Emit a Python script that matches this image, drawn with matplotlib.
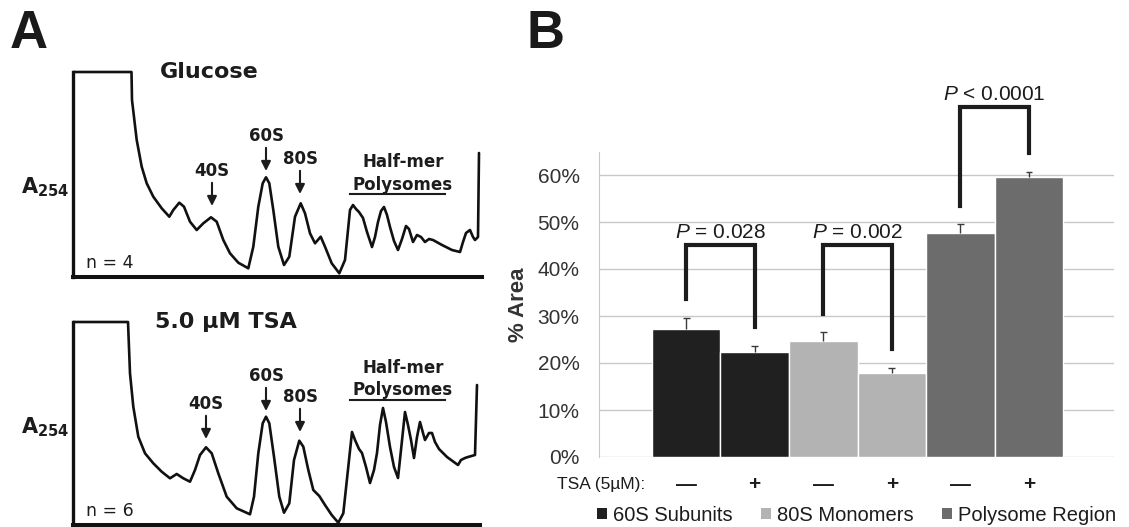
import matplotlib
matplotlib.use("Agg")
import matplotlib.pyplot as plt
from matplotlib.patches import Patch

plt.rcParams['mathtext.fontset'] = 'custom'
plt.rcParams['mathtext.rm'] = 'Liberation Sans'
plt.rcParams['mathtext.it'] = 'Liberation Sans:italic'

# ---- panel A: polysome traces (x = position along gradient, y = A254)
top_x = [0, 58.5, 59, 63.7, 68.7, 73.7, 80.3, 88.7, 96.3, 100.3, 106.3, 111, 117, 123.7, 130.3,
         138, 143.7, 150.3, 157, 165.3, 175.3, 180.3, 185.3, 189.7, 193, 196.3, 200.3, 205.3,
         211, 216.3, 222, 227.7, 232, 237, 242, 247.7, 252, 258.7, 266.3, 272, 277,
         280, 283, 286, 290, 294, 299, 302, 305, 308, 311, 314, 317, 321, 325, 329, 333,
         336, 340, 344, 348, 352, 356, 360, 369, 379, 387, 390, 393, 397, 400, 402, 405, 406]
top_y = [205, 205, 177, 137, 110.3, 93.7, 80.3, 68.7, 60.3, 67, 74.3, 70.3, 55.3, 47, 53.7,
         59.7, 55.3, 37, 23.7, 14.3, 8.7, 30.3, 70.3, 93.7, 99.7, 93.7, 67, 30.3,
         12, 20.3, 60.3, 73.7, 63.7, 43.7, 33.7, 40.3, 30.3, 13.7, 3.7, 17, 67,
         72, 68, 65, 59, 45, 30, 40, 55, 66, 70, 62, 50, 36, 27, 38, 51,
         48, 35, 42, 40, 35, 38, 37, 32, 27, 25, 35, 44, 47, 40, 37, 40, 124]

tsa_x = [0, 55, 57, 60.3, 65.3, 72, 80.3, 88.7, 97, 103.7, 110.3, 117, 122, 127, 133, 138.7,
         145.3, 153.7, 163.7, 177, 181, 185.3, 189.7, 193, 196.3, 201, 206.3, 211, 216.3,
         221, 226.3, 230.3, 235.3, 240.3, 246.3, 252, 258.7, 265.3, 270.3, 275.3,
         279, 282, 286, 289, 293, 297, 301, 304, 307, 310, 313, 317, 321, 325, 328, 332,
         335, 338, 341, 344, 347, 350, 352, 356, 359, 362, 366, 374, 385, 388, 392, 395,
         402, 404]
tsa_y = [203, 203, 151.7, 118.3, 88.3, 71.7, 61.7, 53.3, 46.7, 51, 46.7, 43.3, 55, 70, 77.7,
         71.7, 51.7, 28.3, 16.7, 10.7, 28.3, 71.7, 101.7, 108.3, 101.7, 68.3, 28.3, 12.3,
         21.7, 65, 84.3, 78.3, 55, 35, 29, 20, 10, 2.3, 11.7, 58.3,
         93, 85, 76, 72, 58, 42, 55, 72, 100, 117, 103, 78, 58, 47, 75, 113,
         100, 85, 67, 88, 103, 92, 85, 92, 92, 83, 76, 68, 60, 65, 67, 68,
         70, 140]

peak_names = ["40S", "60S", "80S"]
top_peaks = [(139, 70), (193, 105), (227, 82)]
tsa_peaks = [(133, 85), (193, 113), (227, 92)]

# ---- panel B: % area
groups = ["60S Subunits", "80S Monomers", "Polysome Region"]
colors = ["#202020", "#b3b3b3", "#6c6c6c"]
tsa_signs = ["—", "+", "—", "+", "—", "+"]
area = [0.272, 0.223, 0.247, 0.178, 0.476, 0.596]
err = [0.024, 0.014, 0.018, 0.011, 0.019, 0.010]
p_labels = ["$P$ = 0.028", "$P$ = 0.002", "$P$ < 0.0001"]
bracket_top = [0.451, 0.451, 0.745]

W, H = 1129, 527
fig = plt.figure(figsize=(W / 100, H / 100), dpi=100)
ink = "#1c1c1c"


def trace_panel(ax, xs, ys, title, title_x, peaks, n_text, ytop):
    ax.plot(xs, ys, color="#111111", lw=1.9, solid_joinstyle="round",
            solid_capstyle="round")
    ax.set_xlim(0, 412)
    ax.set_ylim(0, ytop)
    for s in ["top", "right"]:
        ax.spines[s].set_visible(False)
    ax.spines["left"].set_bounds(0, ys[0])
    ax.spines["bottom"].set_bounds(0, xs[-1] + 3)
    ax.spines["left"].set_linewidth(2.4)
    ax.spines["bottom"].set_linewidth(2.9)
    ax.spines["left"].set_color("#111111")
    ax.spines["bottom"].set_color("#111111")
    ax.set_xticks([])
    ax.set_yticks([])
    ax.patch.set_alpha(0)
    ax.text(title_x, ytop - 12, title, ha="center", va="center", fontsize=16,
            fontweight="bold", color=ink)
    for name, (px, py) in zip(peak_names, peaks):
        ax.annotate(name, xy=(px, py + 1), xytext=(px, py + 27),
                    ha="center", va="bottom", fontsize=12, fontweight="bold",
                    color=ink,
                    arrowprops=dict(arrowstyle="-|>", color=ink, lw=1.5,
                                    mutation_scale=14, shrinkA=0, shrinkB=0))
    ax.text(13, 14, n_text, ha="left", va="center", fontsize=12.5, color=ink)
    ax.text(-4, peaks[1][1] - 15, r"$\mathbf{A}_{\mathbf{254}}$", ha="right",
            va="center", fontsize=15, color=ink)


ax_top = fig.add_axes([73 / W, (H - 277) / H, 412 / W, 217 / H])
trace_panel(ax_top, top_x, top_y, "Glucose", 136, top_peaks, "n = 4", 217)
ax_top.text(330, 115, "Half-mer", ha="center", va="center", fontsize=12,
            fontweight="bold", color=ink)
ax_top.text(330, 92, "Polysomes", ha="center", va="center", fontsize=12,
            fontweight="bold", color=ink)
ax_top.plot([277, 372], [83, 83], color=ink, lw=1.5)

ax_bot = fig.add_axes([73 / W, 2 / H, 412 / W, 215 / H])
trace_panel(ax_bot, tsa_x, tsa_y, "5.0 µM TSA", 153, tsa_peaks, "n = 6", 215)
ax_bot.text(330, 157, "Half-mer", ha="center", va="center", fontsize=12,
            fontweight="bold", color=ink)
ax_bot.text(330, 135, "Polysomes", ha="center", va="center", fontsize=12,
            fontweight="bold", color=ink)
ax_bot.plot([277, 372], [125, 125], color=ink, lw=1.5)

# ---- panel B
ax = fig.add_axes([599 / W, 70 / H, 515 / W, 305.5 / H])
font = ["Liberation Sans", "DejaVu Sans"]
x = list(range(len(area)))
for g in range(3):
    xs = x[2 * g:2 * g + 2]
    ax.bar(xs, area[2 * g:2 * g + 2], width=1.0, color=colors[g],
           edgecolor="white", linewidth=1.0, label=groups[g], zorder=2)
tops = [a + e for a, e in zip(area, err)]
ax.vlines(x, area, tops, color="#3a3a3a", lw=1.0, zorder=3)
ax.hlines(tops, [xi - 0.05 for xi in x], [xi + 0.05 for xi in x], color="#3a3a3a",
          lw=1.0, zorder=3)

ax.set_xlim(-1.27, 6.24)
ax.set_ylim(0, 0.65)
ax.set_yticks([0, 0.1, 0.2, 0.3, 0.4, 0.5, 0.6])
ax.set_yticklabels(["0%", "10%", "20%", "30%", "40%", "50%", "60%"],
                   family=font, fontsize=15, color="#333333")
ax.tick_params(axis="y", length=0, pad=14)
ax.set_xticks([])
ax.grid(axis="y", color="#c8c8c8", lw=1.0, zorder=0)
for s in ["top", "right", "bottom"]:
    ax.spines[s].set_visible(False)
ax.spines["left"].set_color("#c8c8c8")
ax.set_ylabel("% Area", family=font, fontsize=16, fontweight="bold",
              color="#333333", labelpad=6)

for g in range(3):
    xl, xr = x[2 * g], x[2 * g + 1]
    lo_l = tops[2 * g] + 0.04
    lo_r = tops[2 * g + 1] + 0.04
    top = bracket_top[g]
    ax.plot([xl, xl, xr, xr], [lo_l, top, top, lo_r], color=ink, lw=3,
            clip_on=False, solid_joinstyle="miter", zorder=4)
    ax.text((xl + xr) / 2, top + 0.027, p_labels[g], ha="center", va="center",
            family=font, fontsize=15, color=ink)

trans = ax.get_xaxis_transform()
ax.text(-0.6, -0.09, "TSA (5µM):", transform=trans, ha="right", va="center",
        family=font, fontsize=12.5, color=ink)
for xi, sign in zip(x, tsa_signs):
    ax.text(xi, -0.09, sign, transform=trans, ha="center", va="center",
            family=font, fontsize=15, fontweight="bold", color=ink)

handles = [Patch(facecolor=c, edgecolor="none", label=gname) for c, gname in zip(colors, groups)]
leg = ax.legend(handles=handles, loc="center", bbox_to_anchor=(0.5, -0.19), ncol=3,
                frameon=False, handlelength=0.5, handleheight=0.5, handletextpad=0.3,
                columnspacing=1.4, prop={"family": font, "size": 14.5})
for t in leg.get_texts():
    t.set_color(ink)

fig.text(10 / W, 1 - 48 / H, "A", fontsize=38, fontweight="bold", family=font,
         va="baseline", color="#1a1a1a")
fig.text(526 / W, 1 - 48 / H, "B", fontsize=38, fontweight="bold", family=font,
         va="baseline", color="#1a1a1a")

fig.savefig("out.png", dpi=100)
